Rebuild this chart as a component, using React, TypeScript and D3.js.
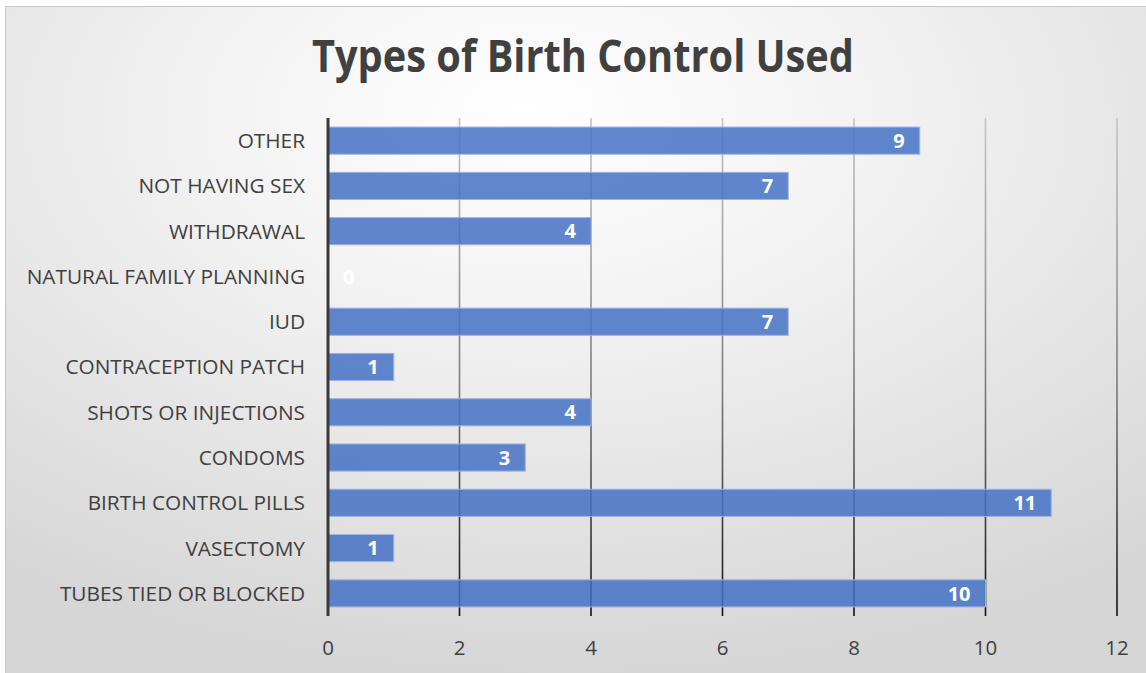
import * as d3 from 'd3';

const categories = [
  'TUBES TIED OR BLOCKED',
  'VASECTOMY',
  'BIRTH CONTROL PILLS',
  'CONDOMS',
  'SHOTS OR INJECTIONS',
  'CONTRACEPTION PATCH',
  'IUD',
  'NATURAL FAMILY PLANNING',
  'WITHDRAWAL',
  'NOT HAVING SEX',
  'OTHER',
];
const counts = [10, 1, 11, 3, 4, 1, 7, 0, 4, 7, 9];
const xTicks = [0, 2, 4, 6, 8, 10, 12];
const title = 'Types of Birth Control Used';

const width = 1146;
const height = 673;
const plot = { left: 328, right: 1117, top: 118, bottom: 616 };
const font = "'Open Sans', 'DejaVu Sans', sans-serif";

const App = () => {
  const x = d3.scaleLinear().domain([0, 12]).range([plot.left, plot.right]);
  const y = d3
    .scaleBand<string>()
    .domain([...categories].reverse())
    .range([plot.top, plot.bottom])
    .paddingInner(0.4)
    .paddingOuter(0.2);

  return (
    <svg
      width={width}
      height={height}
      style={{ position: 'absolute', left: 0, top: 0, display: 'block' }}
    >
      <defs>
        <radialGradient id="bg" cx="48%" cy="18%" r="80%" fx="45%" fy="15%">
          <stop offset="0%" stopColor="#ffffff" />
          <stop offset="35%" stopColor="#f3f3f3" />
          <stop offset="100%" stopColor="#d6d6d6" />
        </radialGradient>
        <linearGradient
          id="grid"
          gradientUnits="userSpaceOnUse"
          x1="0"
          y1={plot.top}
          x2="0"
          y2={plot.bottom}
        >
          <stop offset="0%" stopColor="#c4c4c4" />
          <stop offset="55%" stopColor="#7a7a7a" />
          <stop offset="100%" stopColor="#111111" />
        </linearGradient>
      </defs>

      <rect x={0} y={0} width={width} height={height} fill="#ffffff" />
      <rect
        x={5.5}
        y={6.5}
        width={width + 10}
        height={height + 10}
        fill="url(#bg)"
        stroke="#c8c8c8"
        strokeWidth={1}
      />

      <text
        x={583}
        y={72}
        textAnchor="middle"
        fontFamily={font}
        fontWeight={700}
        fontSize={45}
        fill="#404040"
        textLength={542}
        lengthAdjust="spacingAndGlyphs"
      >
        {title}
      </text>

      {/* gridlines */}
      {xTicks
        .filter((t) => t > 0)
        .map((t) => (
          <line
            key={t}
            x1={x(t)}
            x2={x(t)}
            y1={plot.top}
            y2={plot.bottom}
            stroke="url(#grid)"
            strokeWidth={1.6}
          />
        ))}

      {/* bars */}
      {categories.map((c, i) => (
        <rect
          key={c}
          x={x(0)}
          y={y(c)}
          width={x(counts[i]) - x(0)}
          height={y.bandwidth()}
          fill="#4472c4"
          fillOpacity={0.85}
          stroke="#9db4e0"
          strokeWidth={counts[i] > 0 ? 1 : 0}
        />
      ))}

      {/* axis line */}
      <line
        x1={x(0)}
        x2={x(0)}
        y1={plot.top}
        y2={plot.bottom}
        stroke="#3a3a3a"
        strokeWidth={3}
      />

      {/* category labels */}
      {categories.map((c) => (
        <text
          key={c}
          x={305}
          y={(y(c) ?? 0) + y.bandwidth() / 2}
          dy="0.36em"
          textAnchor="end"
          fontFamily={font}
          fontSize={20.8}
          fill="#404040"
        >
          {c}
        </text>
      ))}

      {/* value labels */}
      {categories.map((c, i) => (
        <text
          key={c}
          x={counts[i] > 0 ? x(counts[i]) - 15 : x(0) + 15}
          y={(y(c) ?? 0) + y.bandwidth() / 2}
          dy="0.36em"
          textAnchor={counts[i] > 0 ? 'end' : 'start'}
          fontFamily={font}
          fontWeight={700}
          fontSize={20}
          fill="#ffffff"
        >
          {counts[i]}
        </text>
      ))}

      {/* x tick labels */}
      {xTicks.map((t) => (
        <text
          key={t}
          x={x(t)}
          y={655}
          textAnchor="middle"
          fontFamily={font}
          fontSize={20.5}
          fill="#404040"
        >
          {t}
        </text>
      ))}
    </svg>
  );
};

export default App;
